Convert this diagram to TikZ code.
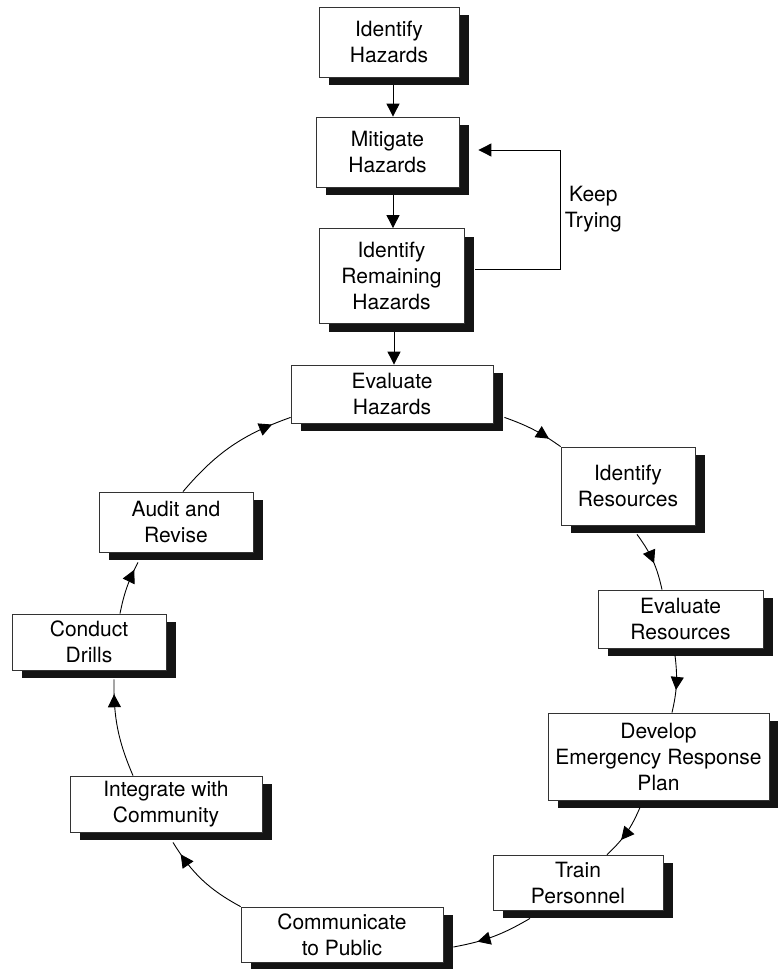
\documentclass[tikz,border=0pt]{standalone}
\usepackage{fontspec}
\setmainfont{TeX Gyre Heros}
\usetikzlibrary{arrows.meta,shadows,decorations.markings}

\tikzset{flow/.style={line width=0.9pt, postaction={decorate},
  decoration={markings, mark=at position #1 with {\arrow{Triangle[length=13pt,width=13pt]}}}}}

\begin{document}
\begin{tikzpicture}[x=1pt,y=-1pt]
\tikzstyle{task} = [draw=black!80, fill=white, line width=0.8pt, align=center, inner sep=2pt,
  font=\fontsize{21}{26}\selectfont,
  drop shadow={shadow xshift=10pt, shadow yshift=-8pt, fill=black!92, opacity=1}]
\tikzstyle{arrow} = [line width=0.9pt, -{Triangle[length=13pt,width=13pt]}]

\useasboundingbox (0,0) rectangle (778,969);

\node(idhaz)[task, minimum width=140pt, minimum height=70pt] at (389,42) {Identify\\Hazards};
\node(mithaz)[task, minimum width=143pt, minimum height=70pt] at (387.5,152) {Mitigate\\Hazards};
\node(remhaz)[task, minimum width=145pt, minimum height=95pt] at (391.5,276) {Identify\\Remaining\\Hazards};
\node(evhaz)[task, minimum width=202pt, minimum height=58pt] at (392,394) {Evaluate\\Hazards};
\node(idres)[task, minimum width=134pt, minimum height=78pt] at (628,486) {Identify\\Resources};
\node(evres)[task, minimum width=165pt, minimum height=58pt] at (680.5,619) {Evaluate\\Resources};
\node(devplan)[task, minimum width=221pt, minimum height=87pt] at (658.5,756.5) {Develop\\Emergency Response\\Plan};
\node(train)[task, minimum width=170pt, minimum height=55pt] at (578,882.5) {Train\\Personnel};
\node(comm)[task, minimum width=202pt, minimum height=55pt] at (342,934.5) {Communicate\\to Public};
\node(integ)[task, minimum width=192pt, minimum height=56pt] at (166,804) {Integrate with\\Community};
\node(drills)[task, minimum width=154pt, minimum height=56pt] at (89,642) {Conduct\\Drills};
\node(audit)[task, minimum width=154pt, minimum height=60pt] at (176,522) {Audit and\\Revise};

% straight down the top column
\draw [arrow] ([shift={(4,8)}]idhaz.south) -- ([xshift=5.5pt]mithaz.north);
\draw [arrow] ([shift={(5.5,8)}]mithaz.south) -- ([xshift=1.5pt]remhaz.north);
\draw [arrow] ([shift={(2.5,8)}]remhaz.south) -- ([xshift=2pt]evhaz.north);
\draw [arrow] ([shift={(11,-7)}]remhaz.east) -- ++(85,0)
  |- node[pos=0.25, right, align=center, inner sep=4pt, font=\fontsize{21}{26}\selectfont]{Keep\\Trying}
  ([shift={(19,-2)}]mithaz.east);

% the cycle
\draw [flow=0.78] ([shift={(11,-6)}]evhaz.south east) to[bend left=8] (idres.north west);
\draw [flow=0.55] ([shift={(9,9)}]idres.south) to[bend left=12] ([xshift=-18.5pt]evres.north);
\draw [flow=0.6] ([shift={(-5.5,7)}]evres.south) to[bend left=10] ([xshift=13.5pt]devplan.north);
\draw [flow=0.65] ([shift={(-18.5,7)}]devplan.south) to[bend left=12] ([xshift=29pt]train.north);
\draw [flow=0.7] ([shift={(-48,8)}]train.south) to[bend left=10] ([shift={(10,12.5)}]comm.east);
\draw [flow=0.85] (comm.north west) to[bend left=15] ([shift={(7,10)}]integ.south);
\draw [flow=0.85] ([xshift=-33pt]integ.north) to[bend left=12] ([shift={(25,9)}]drills.south);
\draw [flow=0.85] ([xshift=31pt]drills.north) to[bend left=8] ([shift={(-38,10)}]audit.south);
\draw [flow=0.85] ([xshift=7pt]audit.north) to[bend left=15] ([shift={(0,-6)}]evhaz.south west);
\end{tikzpicture}
\end{document}
